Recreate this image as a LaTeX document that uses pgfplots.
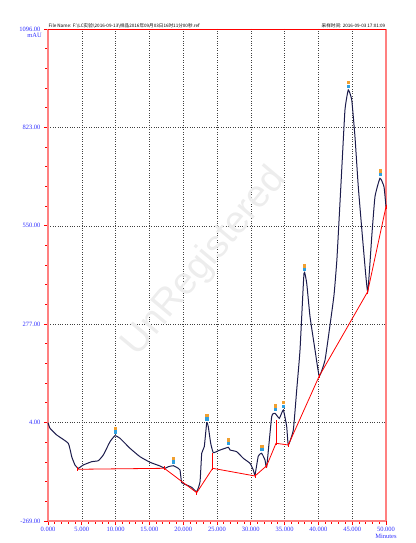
\documentclass[border=0pt]{standalone}
\usepackage{fontspec}
\setmainfont{Liberation Serif}
\setsansfont{Liberation Sans}
\newfontfamily\cjk{Noto Sans CJK SC}
\usepackage{pgfplots}
\pgfplotsset{compat=1.18}
\definecolor{axred}{HTML}{FF8080}
\definecolor{lblblue}{HTML}{3030FF}
\definecolor{trace}{HTML}{1C1C4C}
\definecolor{pkorange}{HTML}{F0A030}
\definecolor{pkblue}{HTML}{30A0E0}

\begin{document}
\begin{tikzpicture}[x=1pt,y=1pt]
\path[use as bounding box] (0,0) rectangle (415,543);
\begin{axis}[
  at={(48pt,22pt)}, anchor=south west,
  width=338pt, height=492pt, scale only axis,
  xmin=0, xmax=50, ymin=-269, ymax=1096,
  axis lines=left,
  axis line style={-, axred, line width=1.8pt},
  xtick={0,5,10,15,20,25,30,35,40,45,50},
  xticklabels={0.000,5.000,10.000,15.000,20.000,25.000,30.000,35.000,40.000,45.000,50.000},
  ytick={-269,4,277,550,823,1096},
  yticklabels={-269.00,4.00,277.00,550.00,823.00,1096.00},
  minor x tick num=4, minor y tick num=4,
  tick align=outside,
  tick style={red, line width=0.9pt},
  major tick length=4pt, minor tick length=2.5pt,
  grid=major,
  major grid style={black!75, dotted, line width=0.45pt},
  ticklabel style={text=lblblue, font=\fontsize{6.5}{7}\selectfont},
  xticklabel style={yshift=1pt},
  clip=false,
]
  % watermark
  \node[rotate=50, text=gray!14, font=\sffamily\fontsize{38}{38}\selectfont]
    at (axis cs:23.2,450) {UnRegistered};

  % frame: thick right side, thin top
  \draw[axred, line width=1.8pt] (rel axis cs:1,0) -- (rel axis cs:1,1);
  \draw[red, line width=0.8pt] (rel axis cs:0,1) -- (rel axis cs:1,1);

  % chromatogram trace
  \addplot[trace, line width=1pt, smooth, tension=0.25] coordinates {
    (0.00,4.0) (0.30,-11.8) (1.29,-30.4) (3.00,-53.4) (3.51,-90.6) (3.99,-113.6)
    (4.48,-122.8) (5.22,-113.6) (6.46,-104.5) (7.44,-101.7) (8.18,-85.9)
    (9.17,-49.0) (9.91,-32.3) (10.65,-39.5) (12.13,-67.3) (13.61,-90.6)
    (15.09,-106.1) (16.57,-116.4) (17.31,-122.8) (17.80,-118.3) (18.54,-115.6)
    (19.27,-122.8) (19.53,-127.5) (19.78,-162.7) (20.52,-169.1) (21.26,-175.5)
    (22.00,-187.7) (22.49,-160.0) (22.74,-81.2) (23.12,-62.8) (23.48,3.8)
    (23.71,-7.3) (24.07,-53.4) (24.45,-79.5) (25.19,-73.9) (26.67,-64.5)
    (26.92,-72.0) (27.91,-76.7) (28.89,-95.0) (29.88,-108.9) (30.37,-127.5)
    (30.62,-141.4) (31.11,-88.6) (31.61,-81.2) (32.10,-99.7) (32.35,-119.2)
    (33.09,20.4) (33.58,29.8) (34.22,16.0) (34.81,39.0) (35.31,-7.3)
    (35.55,-58.1) (36.29,-16.5) (36.79,94.5) (37.28,205.5) (37.87,418.3)
    (38.27,390.5) (38.76,297.9) (39.50,205.5) (40.13,133.3) (40.98,177.7)
    (41.72,274.8) (42.31,358.1) (42.75,460.7) (43.45,704.9) (43.93,871.4)
    (44.42,926.9) (44.93,899.1) (45.41,797.3) (45.90,658.6) (46.64,492.1)
    (47.29,367.2) (47.89,519.8) (48.37,630.8) (49.11,681.9) (49.70,658.6)
    (50.00,603.0)
  };

  % integration baseline
  \addplot[red, line width=0.8pt, mark=|, mark size=2pt] coordinates {
    (4.39,-125.5) (17.20,-122.8) (22.00,-190.5) (24.36,-122.8) (30.62,-144.1)
    (32.35,-115.6) (33.73,-53.4) (35.55,-58.1) (40.13,133.3) (47.29,367.2)
    (50.00,603.0)
  };
  \addplot[red, line width=0.8pt] coordinates {(24.36,-122.8) (24.36,-79.5)};
  \addplot[red, line width=0.8pt] coordinates {(33.73,-53.4) (33.73,11.0)};

  % peak markers
  \addplot[only marks, mark=square*, mark size=1.1pt, pkorange,
    every mark/.append style={yshift=7.5pt}] coordinates {
    (9.91,-32.3) (18.54,-115.6) (23.48,3.8) (26.67,-64.5) (31.61,-81.2)
    (33.58,29.8) (34.81,39.0) (37.87,418.3) (44.42,926.9) (49.11,681.9)};
  \addplot[only marks, mark=square*, mark size=1.1pt, pkblue,
    every mark/.append style={yshift=4pt}] coordinates {
    (9.91,-32.3) (18.54,-115.6) (23.48,3.8) (26.67,-64.5) (31.61,-81.2)
    (33.58,29.8) (34.81,39.0) (37.87,418.3) (44.42,926.9) (49.11,681.9)};

  % labels
  \node[anchor=north east, inner sep=0pt, text=lblblue, font=\fontsize{6.5}{7}\selectfont]
    at ([xshift=-6pt,yshift=-4pt]rel axis cs:0,1) {mAU};
  \node[inner sep=0pt, text=lblblue, font=\fontsize{6.5}{7}\selectfont]
    at ([yshift=-15pt]rel axis cs:1,0) {Minutes};
  \node[anchor=south west, inner sep=0.5pt, font=\cjk\fontsize{4.6}{5}\selectfont]
    at (rel axis cs:0,1) {File Name: F:\textbackslash LC实验\textbackslash 2016-09-13\textbackslash 样品2016年09月03日16时11分00秒.ref};
  \node[anchor=south east, inner sep=0.5pt, font=\cjk\fontsize{4.6}{5}\selectfont]
    at (rel axis cs:1,1) {采样时间: 2016-09-03 17:01:09};
\end{axis}
\end{tikzpicture}
\end{document}
